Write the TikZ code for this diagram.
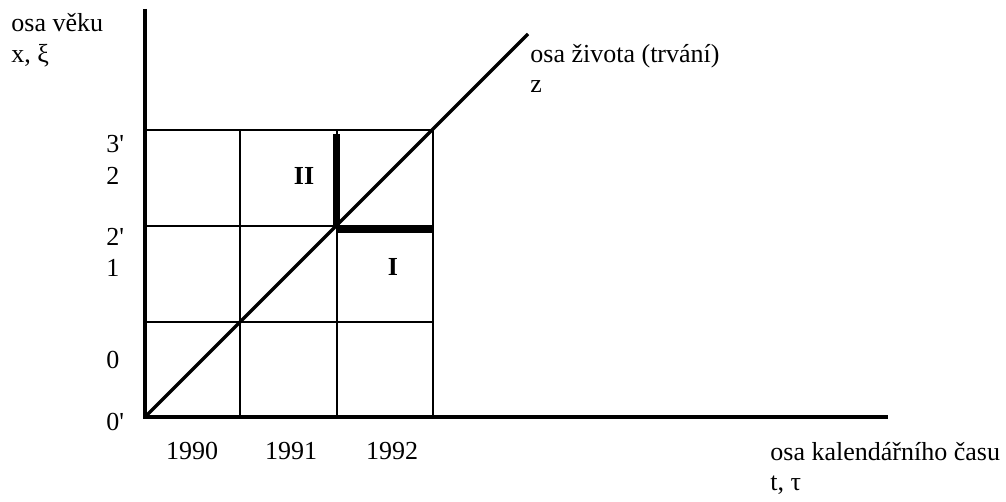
\documentclass[tikz,border=0pt]{standalone}
\usepackage{fontspec}
\setmainfont{Liberation Serif}
\begin{document}
\begin{tikzpicture}[x=0.5pt,y=-0.5pt,
  lbl/.style={font=\fontsize{13}{15.6}\selectfont, inner sep=0pt, anchor=base west},
  yr/.style={font=\fontsize{13}{15.6}\selectfont, inner sep=0pt, anchor=base},
  roman/.style={font=\fontsize{13}{15.6}\selectfont\bfseries, inner sep=0pt, anchor=base},
  axisline/.style={line width=2pt, line join=miter},
  gridline/.style={line width=0.65pt},
  lifeline/.style={line width=1.6pt},
  bar/.style={line width=3.5pt, line cap=butt}]
\useasboundingbox (0,0) rectangle (1006,502);
% key points
\coordinate (O) at (145,417);
\coordinate (Ytop) at (145,9);
\coordinate (Xend) at (888,417);
\coordinate (Zend) at (528,34);
\coordinate (Vtop) at (336.5,134);
\coordinate (Vbot) at (336.5,227);
\coordinate (Hl) at (337,229.5);
\coordinate (Hr) at (433,229.5);
% grid
\foreach \yy in {130,226,322} \draw[gridline] (145,\yy) -- (433,\yy);
\foreach \xx in {240,337,433} \draw[gridline] (\xx,130) -- (\xx,417);
% axes
\draw[axisline] (Ytop) -- (O) -- (Xend);
% life line
\draw[lifeline] (O) -- (Zend);
% thick bars
\draw[bar] (Vtop) -- (Vbot);
\draw[bar] (Hl) -- (Hr);
% labels
\node[lbl] (ya1) at (11,32) {osa věku};
\node[lbl] (ya2) at (11,63) {x, ξ};
\node[lbl] (za1) at (530,63) {osa života (trvání)};
\node[lbl] (za2) at (530,93) {z};
\node[lbl] (xa1) at (770,460) {osa kalendářního času};
\node[lbl] (xa2) at (770,490) {t, τ};
\node[lbl] (l3p) at (106,153) {3\textquotesingle};
\node[lbl] (l2) at (106,185) {2};
\node[lbl] (l2p) at (106,246) {2\textquotesingle};
\node[lbl] (l1) at (106,277) {1};
\node[lbl] (l0) at (106,368) {0};
\node[lbl] (l0p) at (106,430) {0\textquotesingle};
\node[yr] (y90) at (192,459) {1990};
\node[yr] (y91) at (291,459) {1991};
\node[yr] (y92) at (392,459) {1992};
\node[roman] (rII) at (304,185) {II};
\node[roman] (rI) at (393,276) {I};
\end{tikzpicture}
\end{document}
